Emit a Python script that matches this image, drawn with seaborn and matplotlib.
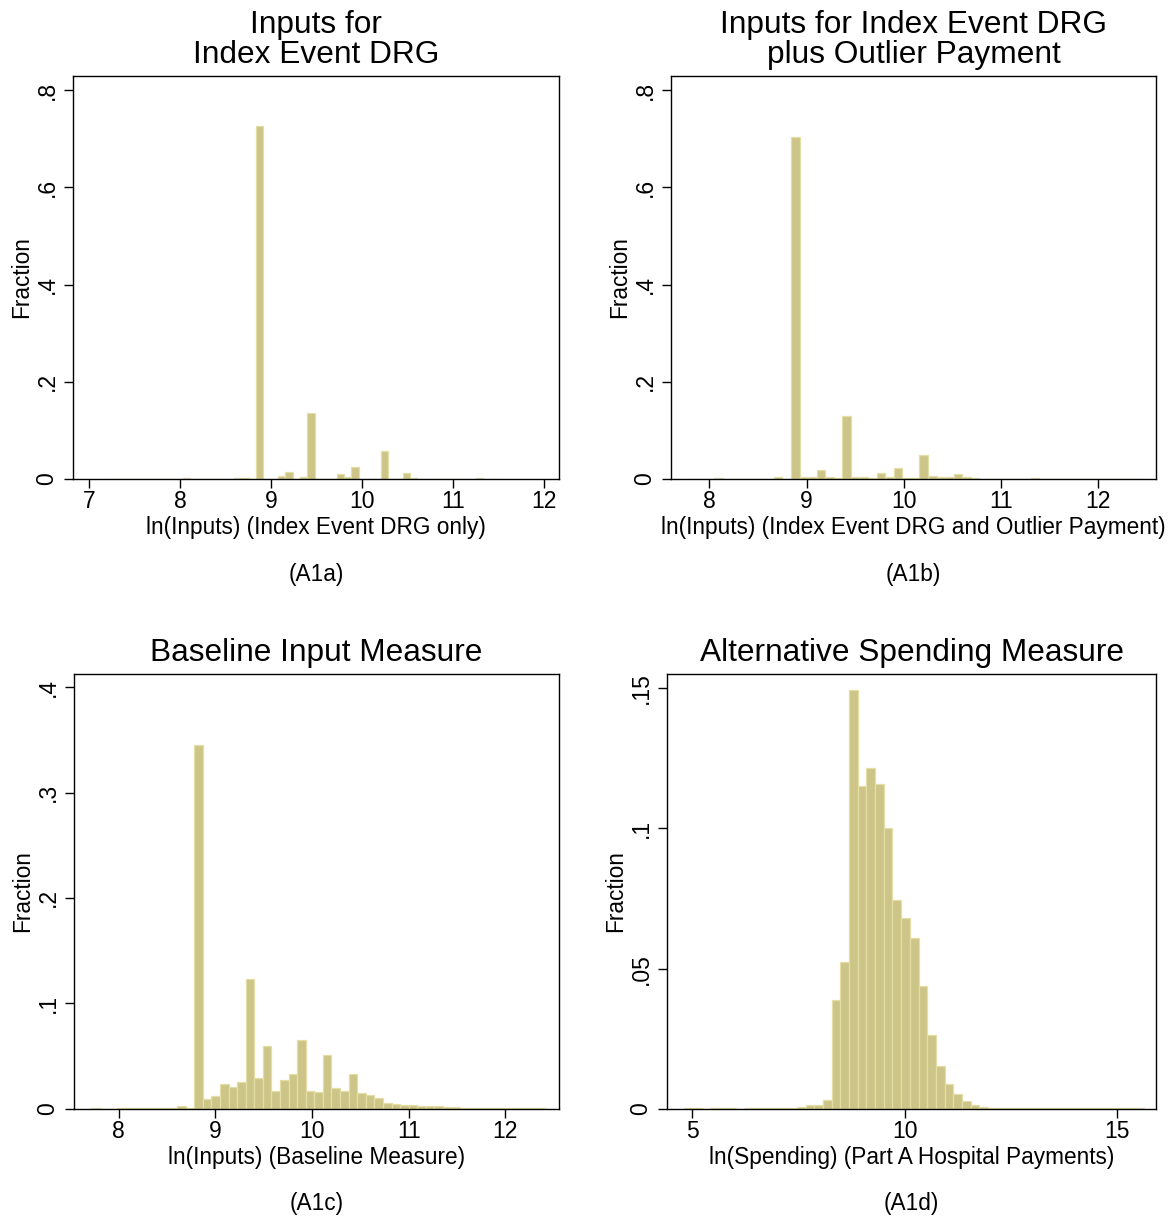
import numpy as np
import pandas as pd
import matplotlib
matplotlib.use('Agg')
import matplotlib.pyplot as plt
import seaborn as sns


# bin start / bin width / fraction per bin
a_start = 7.223
a_width = 0.0806
a_frac = [0.001, 0, 0.001, 0, 0.0005, 0.0005, 0.0005, 0.0005, 0.0005, 0.0005,
          0.0012, 0.0005, 0.0005, 0.0005, 0.0005, 0.0005, 0.0005, 0.002, 0.003, 0.001,
          0.726, 0.0005, 0.001, 0.007, 0.0145, 0.001, 0.005, 0.136, 0.001, 0.001,
          0.001, 0.011, 0.004, 0.025, 0.001, 0.001, 0.001, 0.057, 0.001, 0.001,
          0.012, 0.002, 0.0008, 0.0008, 0.0008, 0.0008, 0.0008, 0.0008, 0.0008, 0.0008,
          0.0015, 0.0005, 0.001]

b_start = 7.784
b_width = 0.088
b_frac = [0.001, 0.0003, 0.0003, 0.0015, 0.0003, 0.0005, 0.0005, 0.0005, 0.0005, 0.0005,
          0.004, 0.0007, 0.703, 0.0035, 0.0035, 0.019, 0.0045, 0.003, 0.130, 0.004,
          0.004, 0.003, 0.012, 0.005, 0.0226, 0.003, 0.003, 0.0487, 0.006, 0.0035,
          0.004, 0.010, 0.0035, 0.0015, 0.001, 0.001, 0.001, 0.001, 0.001, 0.001,
          0.0015, 0.0005, 0.0005, 0.0005, 0.0005, 0.0005, 0.0005, 0.0005, 0.0005, 0.0005,
          0.0005, 0.0005, 0.0005]

c_start = 7.718
c_width = 0.0887
c_frac = [0.0003, 0.0001, 0.0001, 0.0005, 0.0002, 0.0002, 0.0002, 0.0002, 0.0002, 0.0003,
          0.0025, 0.0003, 0.345, 0.0092, 0.0123, 0.0231, 0.0206, 0.0256, 0.1228, 0.0291,
          0.0598, 0.0165, 0.0269, 0.0326, 0.0652, 0.0171, 0.0161, 0.0509, 0.0196, 0.0165,
          0.0332, 0.0152, 0.0127, 0.0101, 0.0057, 0.0041, 0.0035, 0.0032, 0.0025, 0.0022,
          0.0028, 0.0016, 0.0013, 0.001, 0.0008, 0.0006, 0.0005, 0.0004, 0.0003, 0.0003,
          0.0002, 0.0002, 0.0002]

d_start = 4.816
d_width = 0.2039
d_frac = [0.0002, 0.0002, 0, 0.0002, 0.0002, 0.0002, 0, 0.0002, 0.0002, 0.0002,
          0.0003, 0.0003, 0.0004, 0.0005, 0.0014, 0.0013, 0.003, 0.0387, 0.0524, 0.1493,
          0.115, 0.1215, 0.1158, 0.1, 0.0744, 0.0682, 0.0608, 0.0437, 0.0262, 0.0151,
          0.0088, 0.0051, 0.0026, 0.0012, 0.0006, 0.0003, 0.0002, 0.0002, 0.0001, 0.0001,
          0.0001, 0.0001, 0.0002, 0.0001, 0.0001, 0.0001, 0.0001, 0.0001, 0.0001, 0.0001,
          0.0001, 0.0001, 0.0002]

titles = ['Inputs for\nIndex Event DRG',
          'Inputs for Index Event DRG\nplus Outlier Payment',
          'Baseline Input Measure',
          'Alternative Spending Measure']
xlabels = ['ln(Inputs) (Index Event DRG only)',
           'ln(Inputs) (Index Event DRG and Outlier Payment)',
           'ln(Inputs) (Baseline Measure)',
           'ln(Spending) (Part A Hospital Payments)']
captions = ['(A1a)', '(A1b)', '(A1c)', '(A1d)']

a_xticks = [7, 8, 9, 10, 11, 12]
b_xticks = [8, 9, 10, 11, 12]
c_xticks = [8, 9, 10, 11, 12]
d_xticks = [5, 10, 15]
ab_yticks = [0, 0.2, 0.4, 0.6, 0.8]
ab_ylabels = ['0', '.2', '.4', '.6', '.8']
c_yticks = [0, 0.1, 0.2, 0.3, 0.4]
c_ylabels = ['0', '.1', '.2', '.3', '.4']
d_yticks = [0, 0.05, 0.1, 0.15]
d_ylabels = ['0', '.05', '.1', '.15']


sns.set_style('ticks')
plt.rcParams['font.family'] = ['Liberation Sans', 'DejaVu Sans']
plt.rcParams['text.color'] = 'black'
plt.rcParams['axes.labelcolor'] = 'black'

BAR = '#CDC587'
EDGE = '#E3DDA6'
W, H = 1172, 1217


def stata_hist(rect, start, width, frac, xlim, ylim, xticks, yticks, ylabels,
               title, xlabel, caption, cap_off):
    ax = fig.add_axes([rect[0] / W, 1 - rect[3] / H,
                       (rect[2] - rect[0]) / W, (rect[3] - rect[1]) / H])
    edges = start + width * np.arange(len(frac) + 1)
    df = pd.DataFrame({'mid': edges[:-1] + width / 2, 'frac': frac})
    sns.histplot(data=df, x='mid', weights='frac', bins=list(edges), ax=ax,
                 color=BAR, edgecolor=EDGE, linewidth=0.9, alpha=1)
    ax.set_xlim(*xlim)
    ax.set_ylim(*ylim)
    ax.set_xticks(xticks)
    ax.set_xticklabels([str(t) for t in xticks])
    ax.set_yticks(yticks)
    ax.set_yticklabels(ylabels, rotation=90, va='center')
    for s in ax.spines.values():
        s.set_visible(True)
        s.set_color('black')
        s.set_linewidth(1.0)
    ax.tick_params(axis='both', length=6.5, width=1.0, colors='black',
                   labelsize=16.5)
    ax.tick_params(axis='x', pad=1.5)
    ax.tick_params(axis='y', pad=4)
    ax.set_title(title, fontsize=22.8, pad=9.5, linespacing=1.0, color='black')
    ax.set_xlabel(xlabel, fontsize=16.3, labelpad=2, color='black')
    ax.set_ylabel('Fraction', fontsize=16.3, labelpad=2, color='black')
    ax.annotate(caption, xy=(0.5, 0), xycoords='axes fraction',
                xytext=(0, -cap_off), textcoords='offset points',
                ha='center', va='center', fontsize=16.3, color='black')
    return ax


fig = plt.figure(figsize=(W / 100, H / 100), dpi=100)

stata_hist((73, 76, 559, 479), a_start, a_width, a_frac, (6.824, 12.165), (0, 0.8288),
           a_xticks, ab_yticks, ab_ylabels, titles[0], xlabels[0], captions[0], 69)
stata_hist((671, 76, 1156, 479), b_start, b_width, b_frac, (7.606, 12.593), (0, 0.8288),
           b_xticks, ab_yticks, ab_ylabels, titles[1], xlabels[1], captions[1], 69)
stata_hist((74, 674, 559, 1108.7), c_start, c_width, c_frac, (7.538, 12.555), (0, 0.4126),
           c_xticks, c_yticks, c_ylabels, titles[2], xlabels[2], captions[2], 68)
stata_hist((667, 674, 1156, 1108.7), d_start, d_width, d_frac, (4.407, 15.906), (0, 0.1551),
           d_xticks, d_yticks, d_ylabels, titles[3], xlabels[3], captions[3], 68)

fig.savefig('out.png', dpi=100, facecolor='white')
